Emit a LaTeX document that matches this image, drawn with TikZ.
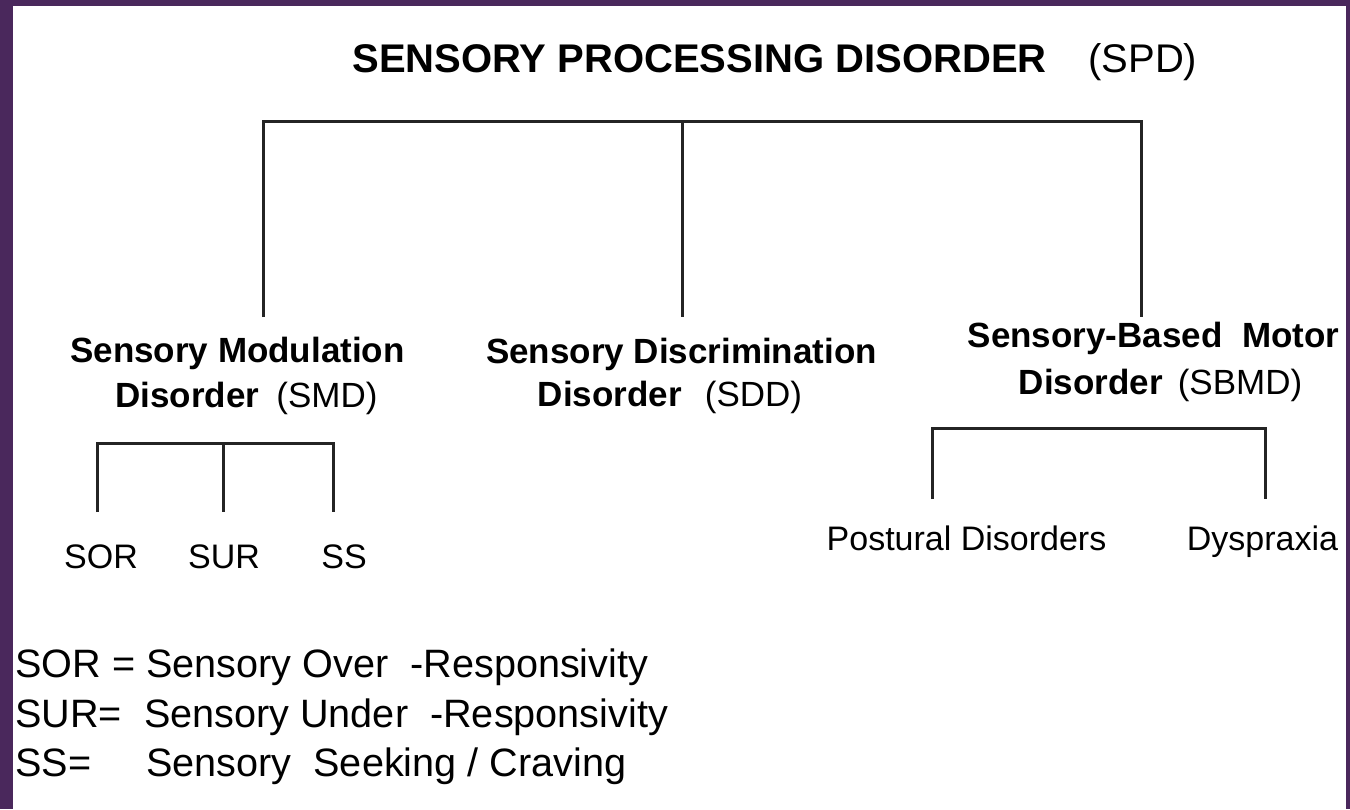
\documentclass[tikz,border=0pt]{standalone}
\usepackage{fontspec}
\setmainfont{Liberation Sans}
\definecolor{frame}{RGB}{74,40,92}
\definecolor{ink}{RGB}{36,36,36}
\begin{document}
\begin{tikzpicture}[x=0.5pt,y=-0.5pt,
  tree/.style={draw=ink,line width=1.5pt},
  lbl/.style={inner sep=0pt,anchor=base},
  ttl/.style={lbl,font=\fontsize{20}{24}\selectfont\bfseries},
  cat/.style={lbl,font=\fontsize{17.5}{21}\selectfont\bfseries},
  sub/.style={lbl,font=\fontsize{17.5}{21}\selectfont},
  leaf/.style={lbl,font=\fontsize{17}{20}\selectfont},
  legend/.style={inner sep=0pt,anchor=base west,font=\fontsize{19.8}{24}\selectfont}]
\useasboundingbox (0,0) rectangle (1350,809);
\fill[frame] (0,0) rectangle (1350,809);
\fill[white] (13,6) rectangle (1346,809);

% title
\node[ttl,anchor=base west] (title) at (352,72) {SENSORY PROCESSING DISORDER};
\node[lbl,anchor=base west,font=\fontsize{20}{24}\selectfont] (spd) at (1088,72) {(SPD)};

% main tree
\coordinate (jL) at (263,121);
\coordinate (jM) at (682,121);
\coordinate (jR) at (1141,121);
\coordinate (eL) at (263,317);
\coordinate (eM) at (682,317);
\coordinate (eR) at (1141,317);
\draw[tree] (eL) -- (jL) -- (jR) -- (eR);
\draw[tree] (jM) -- (eM);

% categories
\node[cat] (smd) at (237.5,362) {Sensory Modulation};
\node[sub] (smd2) at (246.5,407) {\textbf{Disorder}\hspace{8.5pt}(SMD)};
\node[cat] (sdd) at (681.5,363) {Sensory Discrimination};
\node[sub] (sdd2) at (670,406) {\textbf{Disorder}\hspace{11.5pt}(SDD)};
\node[cat] (sbmd) at (1153.5,347) {Sensory-Based\ \ Motor};
\node[sub] (sbmd2) at (1160.5,394) {\textbf{Disorder}\hspace{7.5pt}(SBMD)};

% SMD subtree
\coordinate (sL) at (97,443);
\coordinate (sM) at (223,443);
\coordinate (sR) at (333,443);
\coordinate (tL) at (97,512);
\coordinate (tM) at (223,512);
\coordinate (tR) at (333,512);
\draw[tree] (tL) -- (sL) -- (sR) -- (tR);
\draw[tree] (sM) -- (tM);
\node[leaf] (sor) at (101,568) {SOR};
\node[leaf] (sur) at (224,568) {SUR};
\node[leaf] (ss) at (344,568) {SS};

% SBMD subtree
\coordinate (bL) at (932,428);
\coordinate (bR) at (1265,428);
\coordinate (cL) at (932,499);
\coordinate (cR) at (1265,499);
\draw[tree] (cL) -- (bL) -- (bR) -- (cR);
\node[leaf] (post) at (966.5,550) {Postural Disorders};
\node[leaf] (dysp) at (1262.5,550) {Dyspraxia};

% legend
\node[legend] (l1) at (15,677) {SOR = Sensory Over\ \ -Responsivity};
\node[legend] (l2) at (15,727) {SUR=\ \ Sensory Under\ \ -Responsivity};
\node[legend] (l3) at (15,776) {SS=\ \ \ \ \ Sensory\ \ Seeking / Craving};
\end{tikzpicture}
\end{document}
